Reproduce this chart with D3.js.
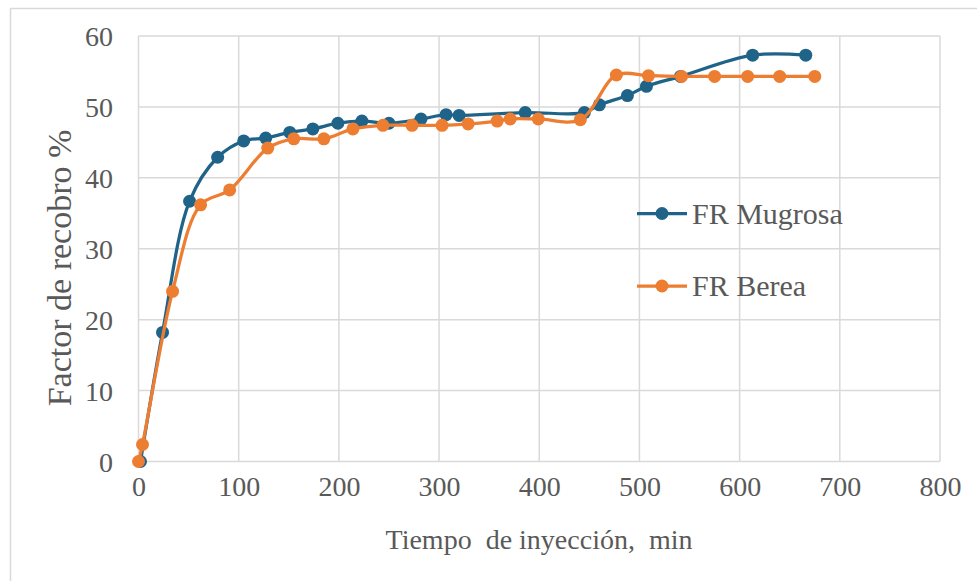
<!DOCTYPE html>
<html><head><meta charset="utf-8">
<script src="https://cdn.jsdelivr.net/npm/d3@7"></script>
<style>
html,body{margin:0;padding:0;background:#fff;}
svg{display:block;}
text{font-family:"Liberation Serif","Times New Roman",serif;fill:#595959;}
</style></head>
<body><div id="chart"></div>
<script>
const xTicks = [0,100,200,300,400,500,600,700,800];
const yTicks = [0,10,20,30,40,50,60];
const seriesNames = ["FR Mugrosa","FR Berea"];
const mugrosaX = [2,24,51,79,105,127,151,174,199,223,250,282,307,320,386,445,460,488,507,541,613,666];
const mugrosaY = [0,18.2,36.7,42.9,45.2,45.6,46.4,46.9,47.7,48.0,47.7,48.3,48.9,48.8,49.2,49.2,50.3,51.6,52.9,54.3,57.3,57.3];
const bereaX = [0,4,34,62,91,129,155,185,214,244,273,303,329,358,371,399,441,477,509,542,575,608,640,675];
const bereaY = [0,2.4,24.0,36.2,38.3,44.2,45.5,45.5,46.9,47.4,47.4,47.4,47.6,48.0,48.3,48.3,48.2,54.5,54.4,54.3,54.3,54.3,54.3,54.3];
const xTitle = "Tiempo  de inyección,  min";
const yTitle = "Factor de recobro %";

const W = 977, H = 581;
const colors = ["#1f6488", "#ed7d31"];
const svg = d3.select("#chart").append("svg").attr("width", W).attr("height", H);

// outer chart border
svg.append("rect").attr("x", 10.5).attr("y", 8.5).attr("width", W + 10).attr("height", H + 10)
  .attr("fill", "none").attr("stroke", "#d9d9d9").attr("stroke-width", 1.5);

const x = d3.scaleLinear().domain([0, 800]).range([138.5, 940]);
const y = d3.scaleLinear().domain([0, 60]).range([461.5, 36]);

// gridlines
const g = svg.append("g");
g.selectAll(".vg").data(xTicks).join("line")
  .attr("x1", d => x(d)).attr("x2", d => x(d)).attr("y1", y(0)).attr("y2", y(60))
  .attr("stroke", "#d9d9d9").attr("stroke-width", 1.5);
g.selectAll(".hg").data(yTicks).join("line")
  .attr("x1", x(0)).attr("x2", x(800)).attr("y1", d => y(d)).attr("y2", d => y(d))
  .attr("stroke", "#d9d9d9").attr("stroke-width", 1.5);

// axes (labels only)
const xAxis = svg.append("g").attr("transform", `translate(0,${y(0)})`)
  .call(d3.axisBottom(x).tickValues(xTicks).tickSize(0).tickPadding(0).tickFormat(d3.format("d")));
xAxis.select(".domain").remove();
xAxis.selectAll("text").attr("y", 34).attr("dy", 0).style("font-size", "28px").attr("fill", "#595959");

const yAxis = svg.append("g").attr("transform", `translate(113,0)`)
  .call(d3.axisLeft(y).tickValues(yTicks).tickSize(0).tickPadding(0).tickFormat(d3.format("d")));
yAxis.select(".domain").remove();
yAxis.selectAll("text").attr("x", 0).attr("dy", "0.34em").style("font-size", "28px").attr("fill", "#595959");

// axis titles
svg.append("text").attr("x", 539).attr("y", 549).attr("text-anchor", "middle")
  .style("font-size", "28px").style("white-space", "pre").attr("xml:space", "preserve").text(xTitle);
svg.append("text").attr("transform", "translate(71,268) rotate(-90)").attr("text-anchor", "middle")
  .style("font-size", "34px").text(yTitle);

const line = d3.line().x(d => x(d[0])).y(d => y(d[1])).curve(d3.curveCatmullRom.alpha(0.5));
const series = [
  d3.zip(mugrosaX, mugrosaY),
  d3.zip(bereaX, bereaY)
];
series.forEach((pts, i) => {
  const sg = svg.append("g");
  sg.append("path").datum(pts).attr("d", line).attr("fill", "none")
    .attr("stroke", colors[i]).attr("stroke-width", 3.25);
  sg.selectAll("circle").data(pts).join("circle")
    .attr("cx", d => x(d[0])).attr("cy", d => y(d[1])).attr("r", 6.5).attr("fill", colors[i]);
});

// legend
const legY = [213.5, 286];
seriesNames.forEach((name, i) => {
  const lg = svg.append("g");
  lg.append("line").attr("x1", 637).attr("x2", 687).attr("y1", legY[i]).attr("y2", legY[i])
    .attr("stroke", colors[i]).attr("stroke-width", 3.25);
  lg.append("circle").attr("cx", 662).attr("cy", legY[i]).attr("r", 6.5).attr("fill", colors[i]);
  lg.append("text").attr("x", 692).attr("y", legY[i] + 10).style("font-size", "30px").text(name);
});
</script></body></html>
